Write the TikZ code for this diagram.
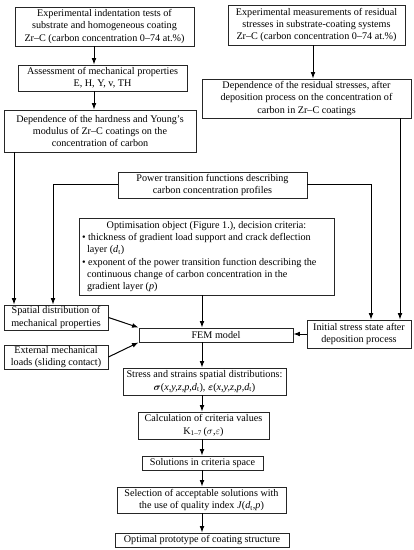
\documentclass[tikz,border=0pt]{standalone}
\usepackage{amsmath}
\usepackage{bm}
\usepackage{fontspec}
\setmainfont{Liberation Serif}
\usetikzlibrary{arrows.meta}
\begin{document}
\begin{tikzpicture}[x=1bp,y=-1bp,
  box/.style={draw=black!85, line width=0.9bp, align=center, inner sep=1bp,
    font=\fontsize{10.2}{12.4}\selectfont},
  arr/.style={draw=black, line width=1bp, -{Latex[length=6.5bp,width=4.8bp]}}]
\useasboundingbox (0,0) rectangle (413,550);
\fill[white] (0,0) rectangle (413,550);

\node[box, minimum width=179bp, minimum height=39bp] (b1) at (104.5,26.5)
  {Experimental indentation tests of\\ substrate and homogeneous coating\\ Zr--C (carbon concentration 0--74 at.\%)};
\node[box, minimum width=169bp, minimum height=26bp] (b2) at (102.5,78)
  {Assessment of mechanical properties\\ E, H, Y, v, TH};
\node[box, minimum width=192bp, minimum height=42bp] (b3) at (100,131)
  {Dependence of the hardness and Young's\\ modulus of Zr--C coatings on the\\ concentration of carbon};
\node[box, minimum width=177bp, minimum height=40bp] (r1) at (316.5,25)
  {Experimental measurements of residual\\ stresses in substrate-coating systems\\ Zr--C (carbon concentration 0--74 at.\%)};
\node[box, minimum width=209bp, minimum height=39bp] (r2) at (306.5,98.5)
  {Dependence of the residual stresses, after\\ deposition process on the concentration of\\ carbon in Zr--C coatings};
\node[box, minimum width=189bp, minimum height=26bp] (pt) at (212.5,185)
  {Power transition functions describing\\ carbon concentration profiles};
\node[box, minimum width=255bp, minimum height=77bp, align=left, inner sep=3bp] (opt) at (206.5,256.5)
  {\makebox[249bp][c]{Optimisation object (Figure 1.), decision criteria:}\\
   \textbullet\ thickness of gradient load support and crack deflection\\
   \hspace*{5bp}layer (\textit{d}\textsubscript{t})\\
   \textbullet\ exponent of the power transition function describing the\\
   \hspace*{5bp}continuous change of carbon concentration in the\\
   \hspace*{5bp}gradient layer (\textit{p})};
\node[box, minimum width=104bp, minimum height=25bp] (sd) at (56,317.5)
  {Spatial distribution of\\ mechanical properties};
\node[box, minimum width=154bp, minimum height=14bp] (fem) at (216,335) {FEM model};
\node[box, minimum width=104bp, minimum height=24bp] (ext) at (56,357)
  {External mechanical\\ loads (sliding contact)};
\node[box, minimum width=104bp, minimum height=28bp] (ini) at (359,334)
  {Initial stress state after\\ deposition process};
\node[box, minimum width=163bp, minimum height=27bp] (st) at (204.5,381.5)
  {Stress and strains spatial distributions:\\
   $\bm{\sigma}$(\textit{x,y,z,p,d}\textsubscript{t}), $\bm{\varepsilon}$(\textit{x,y,z,p,d}\textsubscript{t})};
\node[box, minimum width=131bp, minimum height=27bp] (calc) at (203.5,425.5)
  {Calculation of criteria values\\ K\textsubscript{1--7}\,($\sigma$,$\varepsilon$)};
\node[box, minimum width=121bp, minimum height=14bp] (sol) at (202.5,463)
  {Solutions in criteria space};
\node[box, minimum width=169bp, minimum height=26bp] (sel) at (201.5,500)
  {Selection of acceptable solutions with\\ the use of quality index \textit{J}(\textit{d}\textsubscript{t},\textit{p})};
\node[box, minimum width=174bp, minimum height=14bp] (optp) at (202,540)
  {Optimal prototype of coating structure};

\draw[arr] (b1.south -| 94,0) -- (b2.north -| 94,0);
\draw[arr] (b2.south -| 94,0) -- (b3.north -| 94,0);
\draw[arr] (r1.south -| 313,0) -- (r2.north -| 313,0);
\draw[arr] (b3.south -| 14,0) -- (sd.north -| 14,0);
\draw[arr] (pt.west) -| (sd.north -| 53,0);
\draw[arr] (pt.east) -| (ini.north -| 371,0);
\draw[arr] (r2.south -| 400,0) -- (ini.north -| 400,0);
\draw[arr] (opt.south -| 202,0) -- (fem.north -| 202,0);
\draw[arr] (sd.east) -- (fem.north west);
\draw[arr] (ext.east) -- (fem.south west);
\draw[arr] (ini.west) -- (ini.west -| fem.east);
\draw[arr] (fem.south -| 202,0) -- (st.north -| 202,0);
\draw[arr] (st.south -| 202,0) -- (calc.north -| 202,0);
\draw[arr] (calc.south -| 202,0) -- (sol.north -| 202,0);
\draw[arr] (sol.south -| 202,0) -- (sel.north -| 202,0);
\draw[arr] (sel.south -| 202,0) -- (optp.north -| 202,0);
\end{tikzpicture}
\end{document}
